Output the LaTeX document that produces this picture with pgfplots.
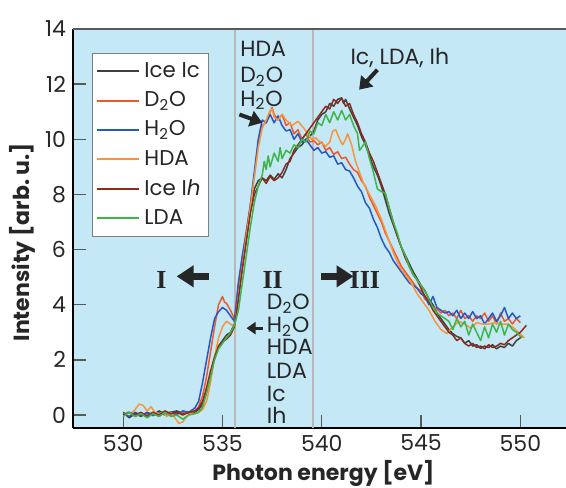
\documentclass[border=0pt]{standalone}
\usepackage{pgfplots}
\pgfplotsset{compat=1.18}
\usepackage{fontspec}
\setmainfont{Poppins}
\newfontfamily\romanfont{Liberation Serif}
\usetikzlibrary{arrows.meta}
\definecolor{bgblue}{HTML}{C5E8F7}
\definecolor{cIc}{HTML}{404040}
\definecolor{cDtwoO}{HTML}{F0582A}
\definecolor{cHtwoO}{HTML}{2857C5}
\definecolor{cHDA}{HTML}{F7953B}
\definecolor{cIh}{HTML}{8B2B1B}
\definecolor{cLDA}{HTML}{3DB54A}
\begin{document}
\begin{tikzpicture}
\begin{axis}[
  name=ax,
  scale only axis,
  width=246.5pt, height=199.5pt,
  xmin=527.47, xmax=552.3,
  ymin=-0.47, ymax=14,
  axis background/.style={fill=bgblue},
  axis x line*=bottom, axis y line*=left,
  axis line style={-, black, line width=1pt},
  xtick={530,535,540,545,550},
  ytick={0,2,4,6,8,10,12,14},
  tick align=inside,
  major tick length=6.5pt,
  tick style={gray!70!black, line width=0.7pt},
  /pgf/number format/assume math mode=true,
  /pgf/number format/1000 sep={},
  ticklabel style={font=\fontsize{11}{13}\selectfont, text=black!85},
  xlabel={\textbf{Photon energy [eV]}},
  ylabel={\textbf{Intensity [arb.\ u.]}},
  every axis x label/.style={at={(axis description cs:0.508,-0.113)}, anchor=center, font=\fontsize{11}{13}\selectfont, text=black!85},
  every axis y label/.style={at={(axis description cs:-0.1034,0.466)}, anchor=center, rotate=90, font=\fontsize{11}{13}\selectfont, text=black!85},
  legend style={at={(axis description cs:0.0385,0.94)}, anchor=north west, draw=gray, line width=0.5pt, fill=white, font=\fontsize{10.7}{13}\selectfont, text=black!85, inner xsep=2pt, inner ysep=2.5pt, row sep=1.6pt},
  legend cell align=left,
  legend image code/.code={\draw[#1, line width=1pt] (0pt,0pt) -- (21pt,0pt);},
  every axis plot/.append style={line width=0.75pt, line join=round},
  clip=false,
]
\draw[gray!55, line width=1pt] (axis cs:535.62,-0.47) -- (axis cs:535.62,14);
\draw[gray!55, line width=1pt] (axis cs:539.56,-0.47) -- (axis cs:539.56,14);
\draw[gray!70!black, line width=0.8pt] (rel axis cs:0,1) -- (rel axis cs:1,1);

% Ice Ic
\addplot[cIc] coordinates {
(530.0,0.1)(530.3,-0.1)(530.6,0.05)(530.9,-0.05)(531.2,0.1)(531.5,0.0)(531.8,0.15)(532.1,0.05)(532.4,0.1)(532.7,0.15)(533.0,0.05)(533.3,0.1)(533.6,0.1)(533.8,0.2)(534.0,0.4)(534.2,0.9)(534.4,1.5)(534.6,2.1)(534.8,2.5)(535.0,2.7)(535.2,2.9)(535.4,3.0)(535.6,3.3)(535.8,4.3)(536.0,5.4)(536.2,6.4)(536.4,7.4)(536.6,8.2)(536.8,8.5)(537.0,8.6)(537.2,8.5)(537.4,8.7)(537.6,8.55)(537.8,8.75)(538.0,8.6)(538.2,8.9)(538.4,9.3)(538.6,9.5)(538.8,9.7)(539.0,9.8)(539.2,10.0)(539.4,10.1)(539.6,10.3)(539.8,10.7)(540.0,10.9)(540.2,11.0)(540.4,11.3)(540.6,11.2)(540.8,11.45)(541.0,11.5)(541.1,11.3)(541.2,11.45)(541.4,11.1)(541.6,10.8)(541.8,10.5)(542.0,10.1)(542.2,9.8)(542.4,9.4)(542.6,9.0)(542.8,8.7)(543.0,8.3)(543.2,7.8)(543.4,7.3)(543.6,6.9)(543.8,6.5)(544.0,6.1)(544.2,5.8)(544.4,5.5)(544.6,5.2)(544.8,4.95)(545.0,4.7)(545.2,4.5)(545.4,4.2)(545.6,4.0)(545.8,3.7)(546.0,3.5)(546.2,3.3)(546.4,3.1)(546.6,2.95)(546.8,2.85)(547.0,2.8)(547.2,2.6)(547.4,2.7)(547.6,2.5)(547.8,2.55)(548.0,2.42)(548.2,2.5)(548.4,2.45)(548.6,2.55)(548.8,2.4)(549.0,2.5)(549.2,2.45)(549.4,2.6)(549.6,2.5)(549.8,2.7)(550.0,2.8)(550.1,2.9)
};
\addlegendentry{Ice Ic}
% D2O
\addplot[cDtwoO] coordinates {
(530.0,0.0)(530.3,0.1)(530.6,-0.05)(530.9,0.05)(531.2,0.0)(531.5,0.1)(531.8,-0.05)(532.1,0.1)(532.4,0.0)(532.7,0.05)(533.0,0.1)(533.3,0.05)(533.6,0.15)(533.8,0.3)(534.0,0.7)(534.2,1.4)(534.4,2.3)(534.6,3.2)(534.8,4.0)(535.0,4.3)(535.1,4.1)(535.2,4.05)(535.4,3.8)(535.6,3.5)(535.8,4.7)(536.0,5.7)(536.2,6.7)(536.4,7.6)(536.6,8.7)(536.8,9.8)(537.0,10.5)(537.2,10.6)(537.4,11.0)(537.5,11.15)(537.6,10.9)(537.8,10.7)(538.0,10.9)(538.2,10.5)(538.4,10.6)(538.6,10.2)(538.8,10.35)(539.0,10.0)(539.2,10.2)(539.4,9.9)(539.6,9.95)(539.8,9.8)(540.0,9.9)(540.2,9.6)(540.4,9.7)(540.6,9.45)(540.8,9.55)(541.0,9.3)(541.2,9.35)(541.4,9.1)(541.6,8.9)(541.8,8.8)(542.0,8.5)(542.2,8.3)(542.4,7.9)(542.6,7.6)(542.8,7.3)(543.0,7.0)(543.2,6.6)(543.4,6.3)(543.6,6.0)(543.8,5.7)(544.0,5.4)(544.2,5.2)(544.4,5.0)(544.6,4.8)(544.8,4.6)(545.0,4.5)(545.2,4.2)(545.4,4.1)(545.6,3.9)(545.8,3.85)(546.0,3.7)(546.2,3.8)(546.4,3.6)(546.6,3.7)(546.8,3.5)(547.0,3.8)(547.2,3.5)(547.4,3.6)(547.6,3.4)(547.8,3.6)(548.0,3.5)(548.2,3.7)(548.4,3.4)(548.6,3.6)(548.8,3.3)(549.0,3.7)(549.2,3.4)(549.4,3.5)(549.6,3.3)(549.8,3.5)(550.0,3.35)
};
\addlegendentry{D\textsubscript{2}O}
% H2O
\addplot[cHtwoO] coordinates {
(530.0,0.05)(530.3,-0.05)(530.6,0.1)(530.9,0.0)(531.2,0.08)(531.5,-0.02)(531.8,0.1)(532.1,0.0)(532.4,0.12)(532.7,0.02)(533.0,0.15)(533.3,0.1)(533.6,0.25)(533.8,0.5)(534.0,1.2)(534.2,2.0)(534.4,2.8)(534.6,3.5)(534.8,3.75)(535.0,3.9)(535.2,3.8)(535.4,3.6)(535.6,3.4)(535.8,4.8)(536.0,5.8)(536.2,6.6)(536.4,7.6)(536.6,8.8)(536.8,10.0)(537.0,10.7)(537.2,10.6)(537.4,10.9)(537.6,10.6)(537.8,10.85)(538.0,10.5)(538.2,10.3)(538.4,10.35)(538.6,10.0)(538.8,10.2)(539.0,9.9)(539.2,10.0)(539.4,9.8)(539.6,9.6)(539.8,9.7)(540.0,9.5)(540.2,9.55)(540.4,9.35)(540.6,9.4)(540.8,9.1)(541.0,9.15)(541.2,8.9)(541.4,8.85)(541.6,8.6)(541.8,8.3)(542.0,8.1)(542.2,7.7)(542.4,7.5)(542.6,7.1)(542.8,6.8)(543.0,6.4)(543.2,6.1)(543.4,5.9)(543.6,5.6)(543.8,5.4)(544.0,5.2)(544.2,5.0)(544.4,4.8)(544.6,4.7)(544.8,4.6)(545.0,4.4)(545.2,4.3)(545.4,4.0)(545.6,4.3)(545.8,3.9)(546.0,3.8)(546.2,3.7)(546.4,3.75)(546.6,3.6)(546.8,3.8)(547.0,3.5)(547.2,3.7)(547.4,3.5)(547.6,3.75)(547.8,3.5)(548.0,3.6)(548.2,3.3)(548.4,3.5)(548.6,3.7)(548.8,3.4)(549.0,3.6)(549.2,3.9)(549.4,3.5)(549.6,3.7)(549.8,3.5)(550.0,3.6)
};
\addlegendentry{H\textsubscript{2}O}
% HDA
\addplot[cHDA] coordinates {
(530.0,0.0)(530.2,0.1)(530.4,0.05)(530.6,0.2)(530.8,0.4)(531.0,0.35)(531.2,0.15)(531.4,0.3)(531.6,0.1)(531.8,0.05)(532.0,0.1)(532.2,-0.05)(532.4,0.1)(532.6,-0.1)(532.8,-0.3)(533.0,-0.25)(533.2,-0.05)(533.4,0.05)(533.6,0.05)(533.8,0.1)(534.0,0.2)(534.2,0.5)(534.4,1.2)(534.6,2.1)(534.8,2.8)(535.0,3.2)(535.2,3.4)(535.4,3.3)(535.6,3.2)(535.8,4.3)(536.0,5.4)(536.2,6.5)(536.4,7.5)(536.6,8.6)(536.8,9.7)(537.0,10.4)(537.2,10.7)(537.4,11.05)(537.5,11.1)(537.6,10.8)(537.8,10.7)(538.0,10.9)(538.2,10.7)(538.5,10.5)(538.8,10.65)(539.1,10.4)(539.3,10.2)(539.5,10.0)(539.7,10.05)(539.9,9.9)(540.2,9.75)(540.4,9.9)(540.55,10.3)(540.7,10.35)(540.9,10.0)(541.05,9.8)(541.2,10.0)(541.3,10.2)(541.5,9.8)(541.7,9.2)(541.9,8.8)(542.1,8.4)(542.4,8.0)(542.7,7.6)(543.0,7.1)(543.3,6.5)(543.6,5.9)(543.9,5.4)(544.2,5.1)(544.5,4.8)(544.8,4.4)(545.1,4.1)(545.4,3.8)(545.7,3.4)(546.0,3.1)(546.3,2.95)(546.6,3.2)(546.9,3.4)(547.2,3.3)(547.5,3.15)(547.8,3.35)(548.1,3.3)(548.4,3.3)(548.7,3.35)(549.0,3.3)(549.3,3.3)(549.6,3.2)(549.9,3.0)(550.2,2.8)
};
\addlegendentry{HDA}
% Ice Ih
\addplot[cIh] coordinates {
(530.0,0.0)(530.3,0.1)(530.6,0.0)(530.9,0.1)(531.2,-0.05)(531.5,0.1)(531.8,0.0)(532.1,0.15)(532.4,0.05)(532.7,0.1)(533.0,0.0)(533.3,0.1)(533.6,0.15)(533.8,0.25)(534.0,0.5)(534.2,1.0)(534.4,1.6)(534.6,2.1)(534.8,2.5)(535.0,2.65)(535.2,2.75)(535.4,2.9)(535.6,3.2)(535.8,4.2)(536.0,5.3)(536.2,6.3)(536.4,7.3)(536.6,8.0)(536.8,8.3)(537.0,8.6)(537.2,8.4)(537.4,8.65)(537.6,8.5)(537.8,8.6)(538.0,8.8)(538.2,9.1)(538.4,9.2)(538.6,9.6)(538.8,9.8)(539.0,10.0)(539.2,10.2)(539.4,10.4)(539.6,10.6)(539.8,10.8)(540.0,11.0)(540.2,11.2)(540.4,11.1)(540.6,11.45)(540.8,11.3)(541.0,11.5)(541.2,11.2)(541.4,11.3)(541.6,10.9)(541.8,10.6)(542.0,10.2)(542.2,9.9)(542.4,9.5)(542.6,9.2)(542.8,8.8)(543.0,8.4)(543.2,8.0)(543.4,7.5)(543.6,7.0)(543.8,6.5)(544.0,6.1)(544.2,5.7)(544.4,5.4)(544.6,5.1)(544.8,4.9)(545.0,4.6)(545.2,4.3)(545.4,4.1)(545.6,3.8)(545.8,3.6)(546.0,3.4)(546.2,3.2)(546.4,3.0)(546.6,2.9)(546.8,2.7)(547.0,2.8)(547.2,2.6)(547.4,2.5)(547.6,2.6)(547.8,2.45)(548.0,2.5)(548.2,2.4)(548.4,2.55)(548.6,2.45)(548.8,2.5)(549.0,2.6)(549.2,2.55)(549.4,2.7)(549.6,2.8)(549.8,2.9)(550.0,3.0)(550.3,3.25)
};
\addlegendentry{Ice I\textit{h}}
% LDA
\addplot[cLDA] coordinates {
(530.0,-0.05)(530.3,0.1)(530.6,-0.05)(530.9,0.05)(531.2,-0.1)(531.5,0.05)(531.8,-0.05)(532.1,0.1)(532.4,-0.05)(532.7,0.0)(533.0,-0.15)(533.3,0.0)(533.6,0.05)(533.8,0.1)(534.0,0.3)(534.2,0.8)(534.4,1.4)(534.6,2.0)(534.8,2.4)(535.0,2.6)(535.2,2.8)(535.4,3.0)(535.6,3.25)(535.8,3.8)(536.0,4.8)(536.2,5.8)(536.4,6.8)(536.6,7.7)(536.8,8.3)(537.0,8.7)(537.1,9.2)(537.2,8.9)(537.3,9.4)(537.4,9.0)(537.6,9.5)(537.8,9.2)(537.9,9.7)(538.0,9.3)(538.2,9.6)(538.4,9.5)(538.6,9.8)(538.8,9.7)(539.0,10.0)(539.2,9.9)(539.4,10.3)(539.6,10.2)(539.8,10.6)(540.0,10.5)(540.2,10.9)(540.4,10.6)(540.6,11.0)(540.8,10.7)(541.0,11.05)(541.2,10.7)(541.4,10.9)(541.6,10.5)(541.8,10.2)(541.9,9.6)(542.0,9.7)(542.2,9.9)(542.4,9.3)(542.6,8.8)(542.8,8.2)(543.0,8.1)(543.2,8.05)(543.4,7.5)(543.6,7.0)(543.8,6.6)(544.0,6.1)(544.2,5.8)(544.4,5.4)(544.6,5.1)(544.8,4.9)(545.0,4.7)(545.2,4.5)(545.4,4.2)(545.6,3.9)(545.8,3.7)(546.0,3.6)(546.2,3.5)(546.4,3.4)(546.6,3.1)(546.8,3.5)(547.0,3.2)(547.2,3.4)(547.4,2.9)(547.6,3.3)(547.8,3.0)(548.0,2.7)(548.2,3.2)(548.4,2.8)(548.6,3.3)(548.8,3.0)(549.0,3.4)(549.2,2.9)(549.4,3.3)(549.6,3.1)(549.8,3.0)(550.0,2.85)(550.1,2.8)
};
\addlegendentry{LDA}

% annotations
\begin{scope}[every node/.style={font=\fontsize{11}{13}\selectfont, text=black!85, inner sep=0pt}]
\node[anchor=base west] at (axis cs:535.88,13.0) {HDA};
\node[anchor=base west] at (axis cs:535.88,12.06) {D\textsubscript{2}O};
\node[anchor=base west] at (axis cs:535.88,11.2) {H\textsubscript{2}O};
\node[anchor=base] at (axis cs:543.93,12.73) {Ic, LDA, Ih};
\node[anchor=base west] at (axis cs:537.22,3.82) {D\textsubscript{2}O};
\node[anchor=base west] at (axis cs:537.22,2.99) {H\textsubscript{2}O};
\node[anchor=base west] at (axis cs:537.22,2.18) {HDA};
\node[anchor=base west] at (axis cs:537.22,1.33) {LDA};
\node[anchor=base west] at (axis cs:537.22,0.48) {Ic};
\node[anchor=base west] at (axis cs:537.22,-0.3) {Ih};
\end{scope}
\begin{scope}[every node/.style={font=\romanfont\bfseries\fontsize{13}{15}\selectfont, text=black!85, inner sep=0pt}]
\node at (axis cs:531.93,4.91) {I};
\node at (axis cs:537.53,4.91) {II};
\node at (axis cs:542.17,4.91) {III};
\end{scope}
\draw[black!85, line width=3.2pt, -{Triangle[length=8.5pt,width=10.5pt]}] (axis cs:534.3,5.03) -- (axis cs:532.69,5.03);
\draw[black!85, line width=3.2pt, -{Triangle[length=8.5pt,width=10.5pt]}] (axis cs:539.98,5.03) -- (axis cs:541.6,5.03);
\draw[black!85, line width=2pt, -{Triangle[length=6pt,width=8pt]}] (axis cs:535.85,10.9) -- (axis cs:537.0,10.6);
\draw[black!85, line width=2pt, -{Triangle[length=6pt,width=8pt]}] (axis cs:542.8,12.52) -- (axis cs:541.88,11.8);
\draw[black!85, line width=1.5pt, -{Triangle[length=4.5pt,width=6pt]}] (axis cs:537.05,3.15) -- (axis cs:536.21,3.15);
\end{axis}
\pgfresetboundingbox
\useasboundingbox ([xshift=-36.5pt,yshift=14.5pt]ax.north west) rectangle ([yshift=-29.5pt]ax.south east);
\end{tikzpicture}
\end{document}
